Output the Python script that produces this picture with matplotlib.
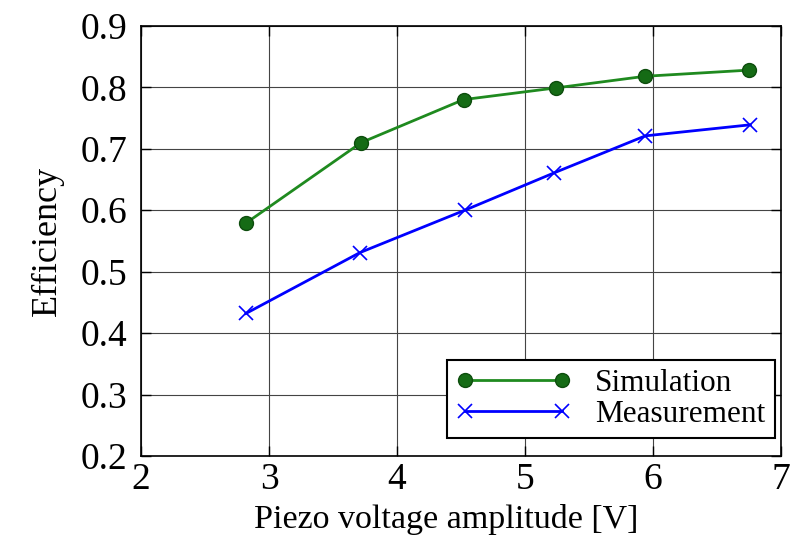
import matplotlib.pyplot as plt

voltage_sim = [2.82, 3.72, 4.52, 5.24, 5.94, 6.75]
eff_sim = [0.579, 0.71, 0.78, 0.799, 0.818, 0.828]
voltage_meas = [2.82, 3.71, 4.53, 5.23, 5.94, 6.76]
eff_meas = [0.432, 0.531, 0.60, 0.661, 0.721, 0.739]

plt.rcParams['font.family'] = ['Liberation Serif', 'DejaVu Serif']

fig = plt.figure(figsize=(7.94, 5.39), dpi=100)
ax = fig.add_axes([0.1776, 0.154, 0.806, 0.798])
ax.plot(voltage_sim, eff_sim, color='#1f8a1f', lw=2, marker='o', ms=10,
        mfc='#156b15', mec='#0d4d0d', label='Simulation')
ax.plot(voltage_meas, eff_meas, color='#0000ff', lw=2, marker='x', ms=10,
        mew=1.2, label='Measurement')
ax.set_xlim(2, 7)
ax.set_ylim(0.2, 0.9)
ax.set_xticks([2, 3, 4, 5, 6, 7])
ax.set_yticks([0.2, 0.3, 0.4, 0.5, 0.6, 0.7, 0.8, 0.9])
ax.set_yticklabels(['0.2', '0.3', '0.4', '0.5', '0.6', '0.7', '0.8', '0.9'])
ax.grid(True, color='#444444', lw=0.8, ls='-')
ax.tick_params(direction='in', top=True, right=True, labelsize=27, length=7, width=1)
ax.tick_params(axis='y', pad=10)
ax.tick_params(axis='x', pad=5)
for s in ax.spines.values():
    s.set_linewidth(1.2)
ax.set_xlabel('Piezo voltage amplitude [V]', fontsize=24.5, labelpad=0)
ax.xaxis.set_label_coords(0.477, -0.112)
ax.set_ylabel('Efficiency', fontsize=26, labelpad=12)
leg = ax.legend(loc='lower right', numpoints=2, fontsize=22.5, fancybox=False,
                edgecolor='black', framealpha=1, borderpad=0.3, handlelength=3.7,
                handletextpad=0.75, labelspacing=0.05, borderaxespad=0,
                bbox_to_anchor=(0.99, 0.042))
leg.get_frame().set_linewidth(1.5)
fig.savefig('out.png', dpi=100)
